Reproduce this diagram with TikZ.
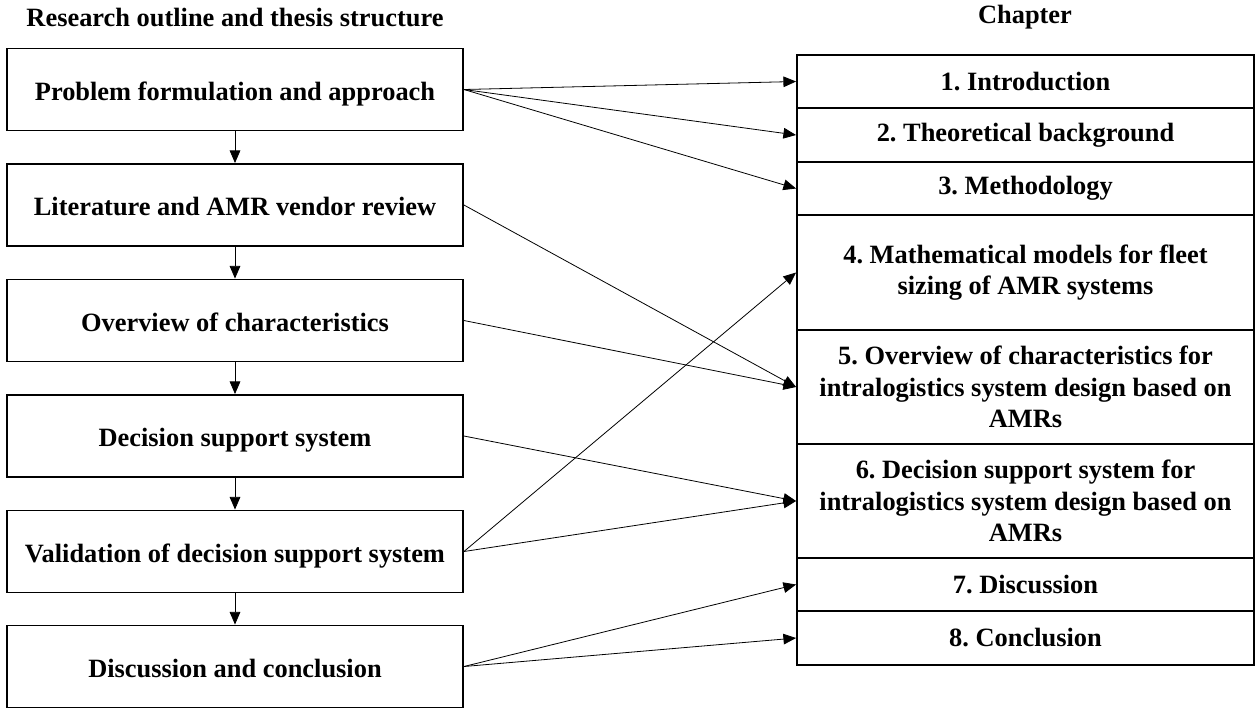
\documentclass[tikz,border=0pt]{standalone}
\usepackage{fontspec}
\setmainfont{Liberation Serif}
\usetikzlibrary{arrows.meta}
\frenchspacing
\begin{document}
\begin{tikzpicture}[x=0.75pt,y=-0.75pt,
  font=\bfseries\fontsize{19.8}{23.6}\selectfont,
  stagebox/.style={draw, line width=1.4pt, minimum width=342pt, minimum height=61.5pt, inner sep=0pt,
                   text height=16.3pt, text depth=0pt},
  chapbox/.style={draw, line width=1.4pt, minimum width=342.75pt, inner sep=0pt, align=center},
  link/.style={-{Triangle[length=9.5pt,width=8pt]}, line width=0.6pt},
  heading/.style={inner sep=0pt}]
\useasboundingbox (0,0) rectangle (1255,708);

% column headings
\node[heading] (hl) at (235,17) {Research outline and thesis structure};
\node[heading] (hr) at (1025,17) {Chapter};

% research stages
\node[stagebox] (l1) at (235,89.5)  {Problem formulation and approach};
\node[stagebox] (l2) at (235,205)   {Literature and AMR vendor review};
\node[stagebox] (l3) at (235,320.5) {Overview of characteristics};
\node[stagebox] (l4) at (235,436)   {Decision support system};
\node[stagebox] (l5) at (235,551.5) {Validation of decision support system};
\node[stagebox] (l6) at (235,666.5) {Discussion and conclusion};

% chapters
\node[chapbox, minimum height=39.75pt] (r1) at (1025.5,81.5) {1. Introduction};
\node[chapbox, minimum height=40.5pt]  (r2) at (1025.5,135)  {2. Theoretical background};
\node[chapbox, minimum height=39.75pt] (r3) at (1025.5,188.5) {3. Methodology};
\node[chapbox, minimum height=86.25pt] (r4) at (1025.5,272.5) {4. Mathematical models for fleet\\sizing of AMR systems};
\node[chapbox, minimum height=85.5pt]  (r5) at (1025.5,387)  {5. Overview of characteristics for\\intralogistics system design based on\\AMRs};
\node[chapbox, minimum height=85.5pt]  (r6) at (1025.5,501)  {6. Decision support system for\\intralogistics system design based on\\AMRs};
\node[chapbox, minimum height=39.75pt] (r7) at (1025.5,584.5) {7. Discussion};
\node[chapbox, minimum height=40.5pt]  (r8) at (1025.5,638)  {8. Conclusion};

% sequence of stages
\foreach \a/\b in {l1/l2,l2/l3,l3/l4,l4/l5,l5/l6}
  \draw[link] (\a.south) -- (\b.north);

% stages mapped to chapters
\draw[link] (l1.east) -- (r1.west);
\draw[link] (l1.east) -- (r2.west);
\draw[link] (l1.east) -- (r3.west);
\draw[link] (l2.east) -- (r5.west);
\draw[link] (l3.east) -- (r5.west);
\draw[link] (l4.east) -- (r6.west);
\draw[link] (l5.east) -- (r4.west);
\draw[link] (l5.east) -- (r6.west);
\draw[link] (l6.east) -- (r7.west);
\draw[link] (l6.east) -- (r8.west);
\end{tikzpicture}
\end{document}
